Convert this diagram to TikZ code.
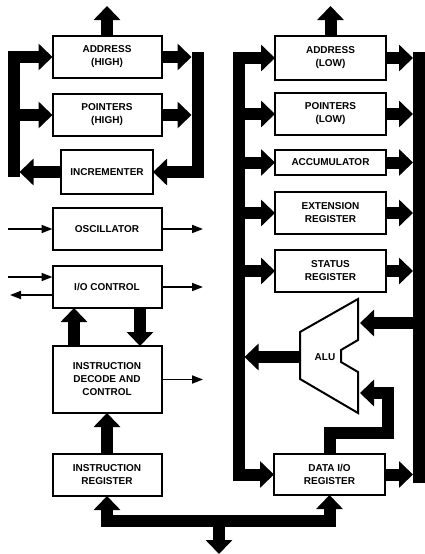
\documentclass[tikz,border=0pt]{standalone}
\usepackage{fontspec}
\setmainfont{Liberation Sans}
\usetikzlibrary{arrows.meta,positioning}

\tikzset{
  blk/.style={draw, line width=2pt, outer sep=0pt, minimum width=109pt, minimum height=42pt,
    inner sep=1pt, align=center, font=\bfseries\fontsize{10}{13}\selectfont},
  bus/.style={line width=12pt, line join=miter, -{Triangle[length=14pt,width=26pt]}},
  busb/.style={line width=12pt, line join=miter,
    {Triangle[length=14pt,width=26pt]}-{Triangle[length=14pt,width=26pt]}},
  wire/.style={line width=1.8pt, -{Triangle[length=11pt,width=8pt]}},
}

\begin{document}
\begin{tikzpicture}[x=1pt, y=-1pt]
  \useasboundingbox (0,0) rectangle (424,554);

  % high byte side
  \node[blk] (addrH) at (107,57) {ADDRESS\\(HIGH)};
  \node[blk,below=16pt of addrH] (ptrH) {POINTERS\\(HIGH)};
  \node[blk,minimum width=92pt,minimum height=44pt,below=14pt of ptrH] (incr) {INCREMENTER};
  \node[blk,below=14pt of incr] (osc) {OSCILLATOR};
  \node[blk,below=16pt of osc] (ioctl) {I/O CONTROL};
  \node[blk,minimum height=67pt,below=38pt of ioctl] (decode) {INSTRUCTION\\DECODE AND\\CONTROL};
  \node[blk,below=41pt of decode] (ireg) {INSTRUCTION\\REGISTER};

  % low byte side
  \node[blk,minimum width=111pt,minimum height=44pt] (addrL) at (330.5,58) {ADDRESS\\(LOW)};
  \node[blk,minimum width=111pt,below=13pt of addrL] (ptrL) {POINTERS\\(LOW)};
  \node[blk,minimum width=111pt,minimum height=25pt,below=15pt of ptrL] (acc) {ACCUMULATOR};
  \node[blk,minimum width=111pt,below=17pt of acc] (ext) {EXTENSION\\REGISTER};
  \node[blk,minimum width=111pt,below=16pt of ext] (status) {STATUS\\REGISTER};
  \node[blk,minimum width=111pt,minimum height=41pt] (dataio) at (329.5,474.5) {DATA I/O\\REGISTER};

  % ALU
  \draw[line width=2pt] (358,299) -- (300,332) -- (300,379) -- (358,413) -- (358,372)
    -- (341,362) -- (341,350) -- (358,340) -- cycle;
  \node[font=\bfseries\fontsize{10}{13}\selectfont] (alu) at (325,357) {ALU};
  \coordinate (aluL) at (300,357);
  \coordinate (aluA) at (360,323);
  \coordinate (aluB) at (360,393);
  \coordinate (bend) at (388,433);

  % bus ends
  \coordinate (top) at (0,6);
  \coordinate (lb) at (13.5,177);
  \coordinate (lbE) at (19.5,177);
  \coordinate (rb) at (197.5,52);
  \coordinate (rbE) at (191.5,52);
  \coordinate (Lb) at (238.5,52);
  \coordinate (LbE) at (244.5,52);
  \coordinate (Rb) at (419,52);
  \coordinate (RbE) at (413,52);
  \coordinate (RbB) at (419,483);
  \coordinate (busM) at (219,521);
  \coordinate (bot) at (219,554);
  \coordinate (inL) at (8,0);
  \coordinate (outL) at (10,0);
  \coordinate (outR) at (203,0);

  % high byte buses
  \draw[bus] (addrH.north) -- (addrH.north |- top);
  \draw[bus] (lb) |- (addrH.west);
  \draw[bus] (ptrH.west -| lb) -- (ptrH.west);
  \draw[bus] (incr.west) -- (incr.west -| lbE);
  \draw[bus] (rb) |- (incr.east);
  \draw[bus] (addrH.east) -- (addrH.east -| rbE);
  \draw[bus] (ptrH.east) -- (ptrH.east -| rbE);

  % control lines
  \draw[wire] (osc.west -| inL) -- (osc.west);
  \draw[wire] (osc.east) -- (osc.east -| outR);
  \draw[wire] ([yshift=10pt]ioctl.west -| inL) -- ([yshift=10pt]ioctl.west);
  \draw[wire] ([yshift=-8pt]ioctl.west) -- ([yshift=-8pt]ioctl.west -| outL);
  \draw[wire] (ioctl.east) -- (ioctl.east -| outR);
  \draw[wire] (decode.east) -- (decode.east -| outR);
  \draw[bus] ([xshift=-33pt]decode.north) -- ([xshift=-33pt]ioctl.south);
  \draw[bus] ([xshift=33pt]ioctl.south) -- ([xshift=33pt]decode.north);
  \draw[bus] (ireg.north) -- (decode.south);

  % low byte buses
  \draw[bus] (addrL.north) -- (addrL.north |- top);
  \draw[bus] (Lb) |- (dataio.west);
  \draw[bus] (addrL.west -| Lb) -- (addrL.west);
  \draw[bus] (ptrL.west -| Lb) -- (ptrL.west);
  \draw[bus] (acc.west -| Lb) -- (acc.west);
  \draw[bus] (ext.west -| Lb) -- (ext.west);
  \draw[bus] (status.west -| Lb) -- (status.west);
  \draw[bus] (aluL) -- (aluL -| LbE);
  \draw[line width=12pt] (Rb) -- (RbB);
  \draw[bus] (addrL.east) -- (addrL.east -| RbE);
  \draw[bus] (ptrL.east) -- (ptrL.east -| RbE);
  \draw[bus] (acc.east) -- (acc.east -| RbE);
  \draw[bus] (ext.east) -- (ext.east -| RbE);
  \draw[bus] (status.east) -- (status.east -| RbE);
  \draw[bus] (dataio.east) -- (dataio.east -| RbE);
  \draw[bus] (aluA -| Rb) -- (aluA);
  \draw[bus] (dataio.north) |- (bend) |- (aluB);

  % data bus
  \draw[busb] (ireg.south) |- (busM) -| (dataio.south);
  \draw[bus] (busM) -- (bot);
\end{tikzpicture}
\end{document}
